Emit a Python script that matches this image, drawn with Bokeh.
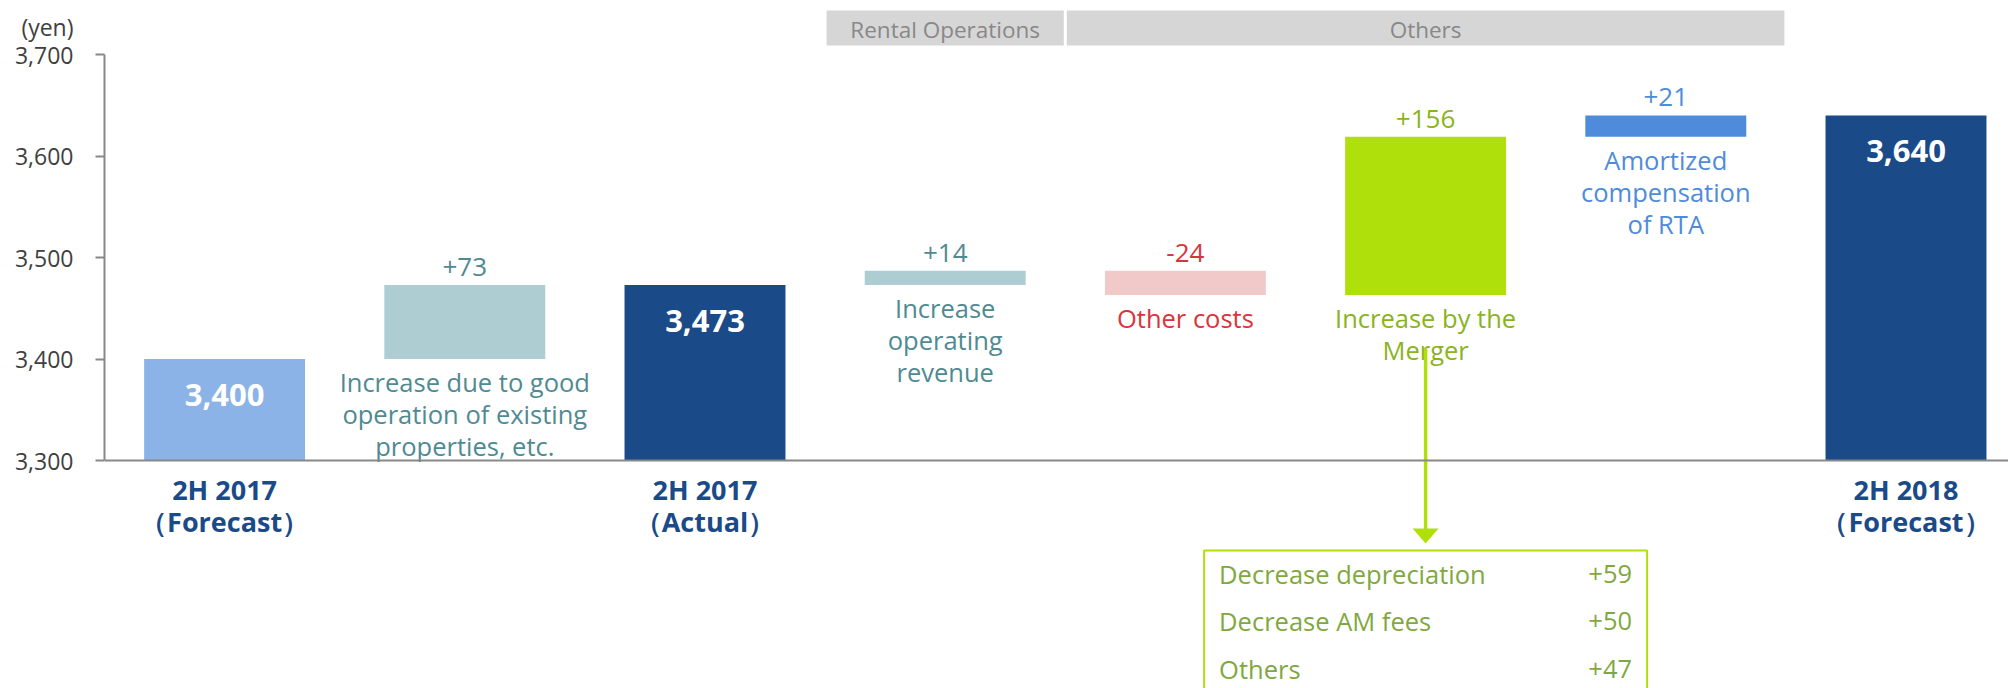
from bokeh.plotting import figure
from bokeh.models import Range1d, Span, FixedTicker, ColumnDataSource
from bokeh.core.properties import value
from bokeh.embed import file_html
from bokeh.resources import INLINE

# ---------------- data ----------------
cat_labels = ["2H 2017\n（Forecast）", "", "2H 2017\n（Actual）", "", "", "", "", "2H 2018\n（Forecast）"]
kinds = ["total", "delta", "total", "delta", "delta", "delta", "delta", "total"]
values = [3400, 73, 3473, 14, -24, 156, 21, 3640]
descriptions = ["", "Increase due to good\noperation of existing\nproperties, etc.", "",
                "Increase\noperating\nrevenue", "Other costs", "Increase by the\nMerger",
                "Amortized\ncompensation\nof RTA", ""]
bar_colors = ["#8cb3e8", "#adcdd2", "#1b4a89", "#adcdd2", "#f2c9c9", "#b0e00c", "#4f8bdb", "#1b4a89"]
text_colors = ["#ffffff", "#4f8a92", "#ffffff", "#4f8a92", "#d9343c", "#8ab31e", "#4f8bdb", "#ffffff"]

y_ticks = [3300, 3400, 3500, 3600, 3700]
y_tick_labels = ["3,300", "3,400", "3,500", "3,600", "3,700"]
y_unit = "(yen)"

header_labels = ["Rental Operations", "Others"]
header_from = [4, 5]   # first category (1-based) covered
header_to = [4, 7]     # last category covered

detail_labels = ["Decrease depreciation", "Decrease AM fees", "Others"]
detail_values = [59, 50, 47]
detail_of = 6  # category the breakdown belongs to

# ---------------- layout constants ----------------
W, H = 2008, 688
LEFT = 104
PX_X = 240.2          # px per category
PX_Y = 1.015          # px per yen
AXIS_Y_PX = 460       # y (from top of figure) of 3,300 line
BASE = 3300
x0 = 0.5
x1 = x0 + (W - LEFT) / PX_X
y1 = BASE + AXIS_Y_PX / PX_Y
y0 = BASE - (H - AXIS_Y_PX) / PX_Y

def py(px_from_top):
    return BASE + (AXIS_Y_PX - px_from_top) / PX_Y

FONT = "Open Sans"

# ---------------- waterfall geometry ----------------
xs = list(range(1, len(values) + 1))
bottoms, tops = [], []
running = 0
for k, v in zip(kinds, values):
    if k == "total":
        bottoms.append(BASE)
        tops.append(v)
        running = v
    else:
        lo, hi = (running, running + v) if v >= 0 else (running + v, running)
        bottoms.append(lo)
        tops.append(hi)
        running += v

p = figure(width=W, height=H, output_backend="svg", toolbar_location=None,
           x_range=Range1d(x0, x1), y_range=Range1d(y0, y1),
           min_border_left=LEFT, min_border_right=0, min_border_top=0, min_border_bottom=0,
           x_axis_location=None)
p.outline_line_color = None
p.xgrid.visible = False
p.ygrid.visible = False
p.background_fill_color = "white"

ax = p.yaxis[0]
ax.bounds = (y_ticks[0], y_ticks[-1])
ax.ticker = FixedTicker(ticks=y_ticks)
overrides = {t: l for t, l in zip(y_ticks, y_tick_labels)}
# unit shown one line above the top tick label (3-line block keeps the number centred on its tick)
overrides[y_ticks[-1]] = y_unit + "\n" + y_tick_labels[-1] + "\n "
ax.major_label_overrides = overrides
ax.major_label_text_line_height = 0.86
ax.axis_line_color = "#888888"
ax.axis_line_width = 2
ax.major_tick_line_color = "#888888"
ax.major_tick_line_width = 2
ax.major_tick_out = 9
ax.major_tick_in = 0
ax.minor_tick_line_color = None
ax.major_label_standoff = 22
ax.major_label_text_font = FONT
ax.major_label_text_font_size = "23px"
ax.major_label_text_color = "#404040"

# x axis line
p.add_layout(Span(location=BASE, dimension="width", line_color="#888888", line_width=2))

# header bands
gap = 1.5 / PX_X
for lab, a, b in zip(header_labels, header_from, header_to):
    p.quad(left=a - 0.5 + gap, right=b + 0.5 - gap, top=py(10), bottom=py(45),
           fill_color="#d6d6d6", line_color=None)
    p.text(x=[(a + b) / 2], y=[py(29)], text=[lab], text_align="center", text_baseline="middle",
           text_font=value(FONT), text_font_size="22.5px", text_color="#888888")

p.vbar(x=xs, width=0.67, bottom=bottoms, top=tops, fill_color=bar_colors, line_color=None)

tot = [i for i, k in enumerate(kinds) if k == "total"]
dlt = [i for i, k in enumerate(kinds) if k == "delta"]

# totals inside bars
p.text(x=[xs[i] for i in tot], y=[tops[i] for i in tot], text=[f"{values[i]:,}" for i in tot],
       y_offset=36, text_align="center", text_baseline="middle",
       text_font=value(FONT), text_font_size="31px", text_font_style="bold", text_color="#ffffff")

# delta labels above bars
p.text(x=[xs[i] for i in dlt], y=[tops[i] for i in dlt], text=[f"{values[i]:+d}" for i in dlt],
       y_offset=-18, text_align="center", text_baseline="middle",
       text_font=value(FONT), text_font_size="26px", text_color=[text_colors[i] for i in dlt])

# descriptions below bars (one glyph row per line)
def split_lines(idx, labels, anchor, first, step):
    lx, ly, lt, lo, lc = [], [], [], [], []
    for i in idx:
        for j, line in enumerate(labels[i].split("\n")):
            lx.append(xs[i]); ly.append(anchor[i]); lt.append(line)
            lo.append(first + j * step); lc.append(text_colors[i])
    return ColumnDataSource(dict(x=lx, y=ly, text=lt, off=lo, color=lc))

dsrc = split_lines(dlt, descriptions, bottoms, 23, 32)
p.text(x="x", y="y", text="text", y_offset="off", source=dsrc, text_align="center",
       text_baseline="middle", text_font=value(FONT), text_font_size="25.5px", text_color="color")

# category labels
csrc = split_lines(tot, cat_labels, [BASE] * len(xs), 29, 32)
p.text(x="x", y="y", text="text", y_offset="off", source=csrc, text_align="center",
       text_baseline="middle", text_font=value(FONT), text_font_size="27px",
       text_font_style="bold", text_color="#1b4a89")

# arrow to breakdown
LIME = "#b0e00c"
xd = detail_of
p.segment(x0=[xd], y0=[py(348)], x1=[xd], y1=[py(529)], line_color=LIME, line_width=3.5)
hw = 13 / PX_X
p.patch(x=[xd - hw, xd + hw, xd], y=[py(528), py(528), py(543)], fill_color=LIME, line_color=None)

# breakdown box
half = 221.5 / PX_X
box_top = py(550)
p.quad(left=xd - half, right=xd + half, top=box_top, bottom=y0 - 50,
       fill_alpha=0, line_color=LIME, line_width=2)
rows_y = [box_top - (23 + 47.5 * i) / PX_Y for i in range(len(detail_labels))]
p.text(x=[xd - half] * len(detail_labels), y=rows_y, text=detail_labels, x_offset=15,
       text_align="left", text_baseline="middle",
       text_font=value(FONT), text_font_size="25.5px", text_color="#7fa840")
p.text(x=[xd + half] * len(detail_values), y=rows_y, text=[f"{v:+d}" for v in detail_values],
       x_offset=-15, text_align="right", text_baseline="middle",
       text_font=value(FONT), text_font_size="25.5px", text_color="#7fa840")

open("out.html", "w").write(file_html(p, INLINE))
